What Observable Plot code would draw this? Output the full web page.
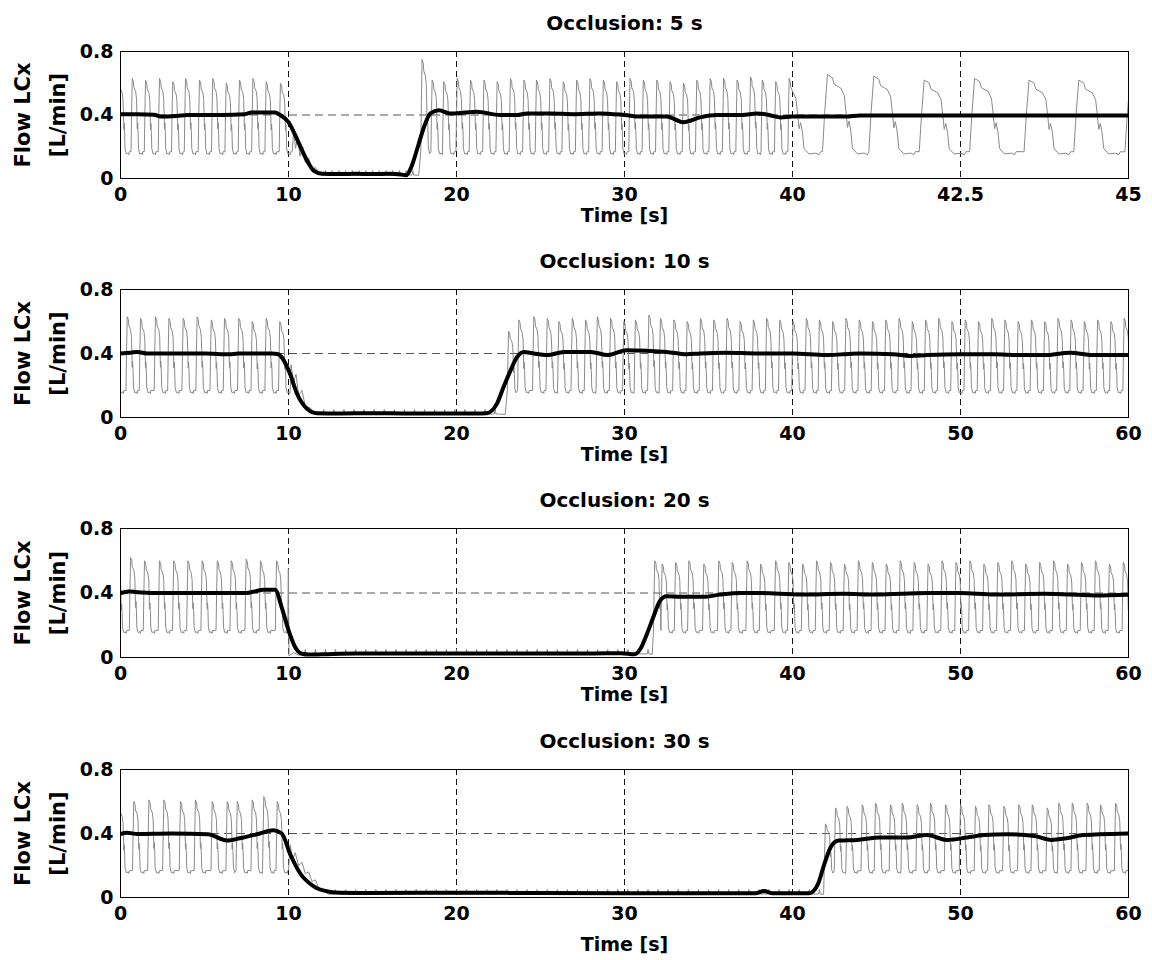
<!DOCTYPE html>
<html>
<head>
<meta charset="utf-8">
<script src="https://cdn.jsdelivr.net/npm/d3@7"></script>
<script src="https://cdn.jsdelivr.net/npm/@observablehq/plot@0.6"></script>
<style>
  html, body { margin: 0; padding: 0; background: #fff; }
  #chart svg { display: block; }
</style>
</head>
<body>
<div id="chart"></div>
<script>
// ---------- DATA ----------
const titles = ["Occlusion: 5 s", "Occlusion: 10 s", "Occlusion: 20 s", "Occlusion: 30 s"];
const yTicks = [0, 0.4, 0.8];
const xTicks1 = [0, 10, 20, 30, 40, 42.5, 45];
const xTicksN = [0, 10, 20, 30, 40, 50, 60];

// one pulse of the raw flow signal, read in the stretched 40–45 s window of panel 1
// (offset from the systolic peak in s, flow in L/min at a 0.65 peak)
const beatOffset = [-0.074, -0.04, 0, 0.074, 0.10, 0.20, 0.25, 0.273, 0.298, 0.32, 0.347, 0.372, 0.446, 0.546, 0.595, 0.62];
const beatShape  = [0.17, 0.42, 0.65, 0.63, 0.59, 0.565, 0.52, 0.43, 0.32, 0.36, 0.30, 0.19, 0.155, 0.16, 0.15, 0.17];

// Panel 1 (5 s)
const p1PeakT = [-0.1, 0.70, 1.49, 2.32, 3.11, 3.87, 4.70, 5.49, 6.29, 7.08, 7.88, 8.67, 9.52,
  17.95, 18.55, 19.24, 20.04, 20.83, 21.63, 22.42, 23.21, 24.01, 24.76, 25.56, 26.35, 27.15, 27.94, 28.74, 29.53,
  30.33, 31.12, 31.92, 32.71, 33.51, 34.3, 35.1, 35.9, 36.7, 37.5, 38.2, 39.0, 39.8, 40.52, 41.21, 41.96, 42.71,
  43.52, 44.26, 45.02];
const p1PeakV = [0.62, 0.63, 0.62, 0.63, 0.61, 0.63, 0.62, 0.63, 0.60, 0.62, 0.63, 0.61, 0.60,
  0.75, 0.62, 0.61, 0.63, 0.62, 0.62, 0.61, 0.63, 0.62, 0.62, 0.63, 0.61, 0.62, 0.63, 0.62, 0.61,
  0.63, 0.62, 0.62, 0.61, 0.60, 0.62, 0.63, 0.63, 0.62, 0.64, 0.62, 0.61, 0.63, 0.655, 0.645, 0.62, 0.63,
  0.62, 0.62, 0.60];
const p1OccT = [10.22, 10.3, 10.42, 10.55, 10.68, 10.85, 11.0, 11.2, 11.4, 11.6, 11.85, 17.75];
const p1OccV = [0.17, 0.30, 0.19, 0.26, 0.14, 0.20, 0.10, 0.13, 0.05, 0.07, 0.025, 0.02];
const p1Floor = [12.2, 12.6, 13.0, 13.4, 13.8, 14.2, 14.6, 15.0, 15.4, 15.8, 16.2, 16.6, 17.0, 17.4];
const p1MeanT = [0, 1, 2.0, 2.4, 3.4, 4, 6, 7.4, 7.8, 9.2, 9.5, 10.0, 10.5, 11.0, 11.5, 12.0, 13, 14, 15, 16, 16.7,
  17.0, 17.3, 17.7, 18.05, 18.45, 18.95, 19.6, 20.5, 21.2, 22.6, 23.6, 24.2, 25.6, 27, 28.5, 30, 31, 32.5, 33.5,
  34.5, 35.5, 37.0, 37.9, 38.6, 39.3, 40, 40.8, 41, 45];
const p1MeanV = [0.405, 0.405, 0.402, 0.39, 0.395, 0.40, 0.40, 0.405, 0.415, 0.415, 0.40, 0.355, 0.25, 0.134, 0.05,
  0.03, 0.028, 0.03, 0.028, 0.03, 0.025, 0.02, 0.07, 0.20, 0.32, 0.41, 0.43, 0.41, 0.415, 0.42, 0.40, 0.40, 0.41,
  0.41, 0.405, 0.41, 0.40, 0.39, 0.39, 0.355, 0.385, 0.40, 0.40, 0.41, 0.40, 0.385, 0.39, 0.39, 0.397, 0.397];

// Panel 2 (10 s)
const p2PeakT = [-0.42, 0.40, 1.19, 2.08, 2.88, 3.73, 4.56, 5.40, 6.19, 7.04, 7.84, 8.67, 9.48,
  23.1, 23.71, 24.60, 25.40, 26.09, 26.89, 27.68, 28.38, 29.17, 29.96, 30.65, 31.45, 32.14, 32.94, 33.73, 34.52,
  35.31, 36.1, 36.88, 37.67, 38.46, 39.24, 40.03, 40.82, 41.6, 42.39, 43.18, 43.97, 44.76, 45.55, 46.34, 47.13,
  47.92, 48.7, 49.49, 50.28, 51.07, 51.86, 52.64, 53.43, 54.22, 55.01, 55.8, 56.58, 57.37, 58.16, 58.95, 59.74];
const p2PeakV = [0.60, 0.63, 0.62, 0.63, 0.62, 0.62, 0.63, 0.61, 0.62, 0.62, 0.60, 0.62, 0.60,
  0.54, 0.61, 0.63, 0.62, 0.60, 0.62, 0.61, 0.63, 0.62, 0.60, 0.61, 0.64, 0.62, 0.61, 0.60, 0.62,
  0.61, 0.62, 0.60, 0.61, 0.62, 0.61, 0.60, 0.62, 0.61, 0.60, 0.62, 0.61, 0.60, 0.61, 0.62, 0.60,
  0.61, 0.62, 0.60, 0.61, 0.60, 0.62, 0.61, 0.60, 0.61, 0.60, 0.62, 0.61, 0.60, 0.61, 0.60, 0.62];
const p2OccT = [10.1, 10.15, 10.3, 10.45, 10.6, 10.8, 11.0, 11.3, 11.6, 22.9];
const p2OccV = [0.17, 0.33, 0.22, 0.27, 0.14, 0.17, 0.07, 0.06, 0.02, 0.02];
const p2Floor = [12.1, 12.7, 13.3, 13.9, 14.5, 15.1, 15.7, 16.3, 16.9, 17.5, 18.1, 18.7, 19.3, 19.9, 20.5, 21.1, 21.7, 22.3];
const p2MeanT = [0, 0.6, 1.0, 1.6, 3, 5, 6.5, 7, 8, 9.0, 9.4, 9.7, 10.1, 10.5, 11.1, 11.7, 13, 15, 17, 19, 21, 21.8,
  22.4, 22.8, 23.2, 23.6, 24.0, 24.6, 25.4, 26.4, 28.0, 29.0, 30.1, 32.5, 33.7, 34.5, 36, 38, 40, 42, 43, 44, 46,
  47, 48, 50, 52, 53.5, 55, 56.5, 58, 60];
const p2MeanV = [0.40, 0.405, 0.41, 0.40, 0.40, 0.40, 0.395, 0.40, 0.40, 0.40, 0.395, 0.36, 0.27, 0.15, 0.055, 0.027,
  0.025, 0.027, 0.025, 0.025, 0.025, 0.027, 0.085, 0.19, 0.29, 0.377, 0.41, 0.40, 0.39, 0.41, 0.41, 0.39, 0.42,
  0.41, 0.395, 0.40, 0.405, 0.40, 0.40, 0.39, 0.395, 0.40, 0.395, 0.385, 0.39, 0.395, 0.395, 0.39, 0.39, 0.405,
  0.39, 0.39];

// Panel 3 (20 s)
const p3PeakT = [-0.25, 0.60, 1.43, 2.32, 3.17, 4.01, 4.86, 5.76, 6.59, 7.48, 8.33, 9.29,
  31.8, 32.24, 33.04, 33.83, 34.72, 35.61, 36.41, 37.30, 38.10, 38.99, 39.78, 40.6, 41.43, 42.26, 43.09, 43.92,
  44.75, 45.58, 46.41, 47.24, 48.07, 48.9, 49.73, 50.56, 51.39, 52.22, 53.05, 53.88, 54.71, 55.54, 56.37, 57.2,
  58.03, 58.86, 59.69];
const p3PeakV = [0.58, 0.62, 0.60, 0.60, 0.60, 0.60, 0.60, 0.60, 0.60, 0.61, 0.60, 0.60,
  0.60, 0.58, 0.59, 0.60, 0.58, 0.60, 0.59, 0.60, 0.58, 0.60, 0.59, 0.58, 0.60, 0.59, 0.58, 0.60,
  0.59, 0.58, 0.60, 0.59, 0.58, 0.60, 0.59, 0.60, 0.58, 0.59, 0.60, 0.58, 0.59, 0.60, 0.58, 0.59,
  0.60, 0.58, 0.59];
const p3OccT = [9.95, 9.99, 10.03, 10.3, 10.6, 31.65];
const p3OccV = [0.15, 0.55, 0.01, 0.03, 0.015, 0.02];
const p3Floor = [11.0, 11.6, 12.2, 12.8, 13.4, 14.0, 14.6, 15.2, 15.8, 16.4, 17.0, 17.6, 18.2, 18.8, 19.4, 20.0,
  20.6, 21.2, 21.8, 22.4, 23.0, 23.6, 24.2, 24.8, 25.4, 26.0, 26.6, 27.2, 27.8, 28.4, 29.0, 29.6, 30.2, 30.8, 31.4];
const p3MeanT = [0, 0.5, 1, 2, 4, 6, 7.5, 8.0, 8.5, 9.2, 9.6, 10.0, 10.4, 10.8, 11.2, 12, 14, 16, 18, 20, 22, 24,
  26, 28, 29.8, 30.6, 30.95, 31.35, 31.75, 32.1, 32.5, 33.3, 34.7, 35.7, 36.9, 38, 40.5, 43, 45, 48, 50, 52, 55, 58, 60];
const p3MeanV = [0.40, 0.41, 0.405, 0.40, 0.40, 0.40, 0.40, 0.41, 0.42, 0.42, 0.31, 0.17, 0.064, 0.023, 0.018, 0.02,
  0.025, 0.025, 0.025, 0.025, 0.025, 0.025, 0.025, 0.025, 0.027, 0.02, 0.054, 0.15, 0.26, 0.35, 0.38, 0.376, 0.376,
  0.39, 0.40, 0.40, 0.39, 0.395, 0.39, 0.40, 0.40, 0.39, 0.395, 0.385, 0.39];

// Panel 4 (30 s)
const p4PeakT = [-0.1, 0.79, 1.69, 2.58, 3.57, 4.46, 5.46, 6.35, 6.95, 7.84, 8.53, 9.33,
  41.96, 42.56, 43.25, 44.15, 44.94, 45.83, 46.53, 47.42, 48.21, 49.11, 50.0, 50.89, 51.69, 52.58, 53.47, 54.27,
  55.16, 55.85, 56.65, 57.54, 58.33, 59.23, 60.05];
const p4PeakV = [0.58, 0.60, 0.61, 0.61, 0.60, 0.61, 0.60, 0.60, 0.60, 0.61, 0.63, 0.60,
  0.46, 0.56, 0.57, 0.58, 0.59, 0.58, 0.59, 0.58, 0.59, 0.58, 0.58, 0.57, 0.58, 0.57, 0.58, 0.58,
  0.56, 0.59, 0.59, 0.59, 0.58, 0.59, 0.58];
const p4OccT = [10.0, 10.1, 10.25, 10.4, 10.6, 10.8, 11.0, 11.2, 11.4, 11.6, 11.8, 12.1, 12.4, 41.85];
const p4OccV = [0.17, 0.33, 0.24, 0.28, 0.20, 0.22, 0.15, 0.16, 0.10, 0.11, 0.06, 0.04, 0.02, 0.02];
const p4Floor = [12.8, 13.4, 14.0, 14.6, 15.2, 15.8, 16.4, 17.0, 17.6, 18.2, 18.8, 19.4, 20.0, 20.6, 21.2, 21.8,
  22.4, 23.0, 23.6, 24.2, 24.8, 25.4, 26.0, 26.6, 27.2, 27.8, 28.4, 29.0, 29.6, 30.2, 30.8, 31.4, 32.0, 32.6,
  33.2, 33.8, 34.4, 35.0, 35.6, 36.2, 36.8, 37.4, 38.0, 38.6, 39.2, 39.8, 40.4, 41.0, 41.6];
const p4MeanT = [0, 0.4, 1, 3, 5.2, 6.35, 7.1, 8.3, 9.1, 9.6, 10.1, 10.7, 11.5, 12.5, 13.1, 15, 20, 25, 30, 35, 37.8,
  38.3, 38.8, 41.0, 41.5, 41.9, 42.3, 42.75, 43.85, 45.2, 46.8, 48.0, 49.2, 50.4, 51.4, 52.8, 54.4, 55.4, 56.3,
  57.3, 58.3, 60];
const p4MeanV = [0.397, 0.405, 0.397, 0.40, 0.395, 0.356, 0.37, 0.40, 0.42, 0.40, 0.27, 0.15, 0.07, 0.035, 0.03,
  0.028, 0.03, 0.028, 0.027, 0.027, 0.027, 0.04, 0.027, 0.027, 0.08, 0.21, 0.32, 0.356, 0.36, 0.375, 0.375, 0.39,
  0.36, 0.375, 0.39, 0.395, 0.385, 0.36, 0.37, 0.39, 0.395, 0.40];

// ---------- build tables ----------
function rawSeries(peakT, peakV, occT, occV, floorT) {
  const pts = [];
  peakT.forEach((p, i) => {
    const next = i + 1 < peakT.length ? peakT[i + 1] + beatOffset[0] : Infinity;
    const a = peakV[i];
    beatOffset.forEach((o, j) => {
      const t = p + o;
      if (t < next) pts.push({t, v: 0.15 + (beatShape[j] - 0.15) * (a - 0.15) / 0.5});
    });
  });
  occT.forEach((t, i) => pts.push({t, v: occV[i]}));
  floorT.forEach(t => {
    pts.push({t: t - 0.05, v: 0.022});
    pts.push({t, v: 0.05});
    pts.push({t: t + 0.05, v: 0.022});
  });
  return pts.sort((a, b) => a.t - b.t);
}
const zipTV = (T, V) => T.map((t, i) => ({t, v: V[i]}));

const panels = [
  {raw: rawSeries(p1PeakT, p1PeakV, p1OccT, p1OccV, p1Floor), mean: zipTV(p1MeanT, p1MeanV),
   xDomain: [0, 40, 45], xRange: [120, 792, 1128], xTicks: xTicks1},
  {raw: rawSeries(p2PeakT, p2PeakV, p2OccT, p2OccV, p2Floor), mean: zipTV(p2MeanT, p2MeanV),
   xDomain: [0, 60], xTicks: xTicksN},
  {raw: rawSeries(p3PeakT, p3PeakV, p3OccT, p3OccV, p3Floor), mean: zipTV(p3MeanT, p3MeanV),
   xDomain: [0, 60], xTicks: xTicksN},
  {raw: rawSeries(p4PeakT, p4PeakV, p4OccT, p4OccV, p4Floor), mean: zipTV(p4MeanT, p4MeanV),
   xDomain: [0, 60], xTicks: xTicksN}
];
const marginTops = [51, 49, 48, 49];
const marginBottoms = [62, 63, 63, 63];
const timeLabelDy = [30, 30, 30, 40];

const FONT = "'DejaVu Sans', sans-serif";
const chart = document.getElementById("chart");

panels.forEach((p, k) => {
  const xOpts = {type: "linear", domain: p.xDomain, ticks: p.xTicks, tickFormat: d => String(d),
    tickSize: 0, tickPadding: 9, label: null, nice: false};
  if (p.xRange) xOpts.range = p.xRange;
  const svg = Plot.plot({
    width: 1152, height: 240,
    marginLeft: 120, marginRight: 24, marginTop: marginTops[k], marginBottom: marginBottoms[k],
    style: {fontFamily: FONT, fontWeight: "bold", fontSize: "19px", color: "black", background: "white", overflow: "visible"},
    x: xOpts,
    y: {domain: [0, 0.8], ticks: yTicks, tickFormat: d => d === 0 ? "0" : d.toFixed(1), tickSize: 0, tickPadding: 7, label: null},
    marks: [
      Plot.ruleX(p.xTicks, {stroke: "#111", strokeWidth: 1, strokeDasharray: "6,4"}),
      Plot.ruleY([0.4], {stroke: "#555", strokeWidth: 1, strokeDasharray: "8,5"}),
      Plot.line(p.raw, {x: "t", y: "v", stroke: "#8a8a8a", strokeWidth: 1, clip: true}),
      Plot.line(p.mean, {x: "t", y: "v", stroke: "black", strokeWidth: 4, curve: "monotone-x", clip: true}),
      Plot.frame({stroke: "black", strokeWidth: 1}),
      Plot.text([titles[k]], {frameAnchor: "top", textAnchor: "middle", lineAnchor: "middle", dy: -28, fontSize: 20, fontWeight: "bold", fill: "black"}),
      Plot.text(["Time [s]"], {frameAnchor: "bottom", textAnchor: "middle", lineAnchor: "top", dy: timeLabelDy[k], fontSize: 19, fontWeight: "bold", fill: "black"}),
      Plot.text(["Flow LCx"], {frameAnchor: "left", textAnchor: "middle", lineAnchor: "middle", dx: -97, rotate: -90, fontSize: 21, fontWeight: "bold", fill: "black"}),
      Plot.text(["[L/min]"], {frameAnchor: "left", textAnchor: "middle", lineAnchor: "middle", dx: -62, rotate: -90, fontSize: 21, fontWeight: "bold", fill: "black"})
    ]
  });
  chart.appendChild(svg);
});
</script>
</body>
</html>
